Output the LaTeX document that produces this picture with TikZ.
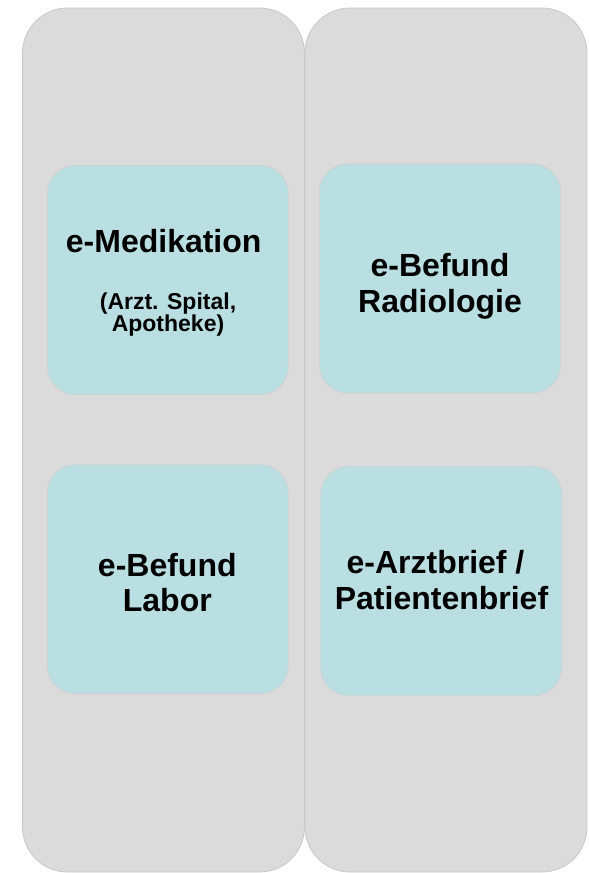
\documentclass[tikz,border=0pt]{standalone}
\usepackage{fontspec}
\setmainfont{Liberation Sans}
\definecolor{grau}{HTML}{DBDBDB}
\definecolor{grauRand}{HTML}{C8C8C8}
\definecolor{tuerkis}{HTML}{B9DFE2}
\definecolor{tuerkisRand}{HTML}{CDD2D3}

\begin{document}
\begin{tikzpicture}[x=1pt, y=-1pt,
  spalte/.style={fill=grau, draw=grauRand, line width=0.8pt, rounded corners=45pt},
  kachel/.style={fill=tuerkis, draw=tuerkisRand, line width=0.8pt, rounded corners=28pt,
    minimum width=241pt, minimum height=229pt, inner sep=0pt},
  titel/.style={font=\bfseries\fontsize{32}{35.5}\selectfont, align=center, anchor=base, inner sep=0pt},
  zusatz/.style={font=\bfseries\fontsize{23}{22}\selectfont, align=center, anchor=base, inner sep=0pt}]
  \useasboundingbox (0,0) rectangle (589,873);
  % Spalten
  \draw[spalte] (22.5,8) rectangle (304.5,872);
  \draw[spalte] (305,8) rectangle (587,872);
  % Kacheln
  \node[kachel] (medikation) at (167.7,280) {};
  \node[kachel] (radiologie) at (440,278.5) {};
  \node[kachel] (labor) at (167.7,579.3) {};
  \node[kachel] (arztbrief) at (441.2,581) {};
  % Beschriftung (base = letzte Zeile)
  \node[titel] (medikationT) at (163.7,252.7) {e-Medikation};
  \node[zusatz] (medikationZ) at (168,331.7) {(Arzt. Spital,\\Apotheke)};
  \node[titel] (radiologieT) at (440,312) {e-Befund\\Radiologie};
  \node[titel] (laborT) at (167.3,611.7) {e-Befund\\Labor};
  \node[titel] (arztbriefT) at (441.5,609) {e-Arztbrief /\hspace*{12pt}\\Patientenbrief};
\end{tikzpicture}
\end{document}
